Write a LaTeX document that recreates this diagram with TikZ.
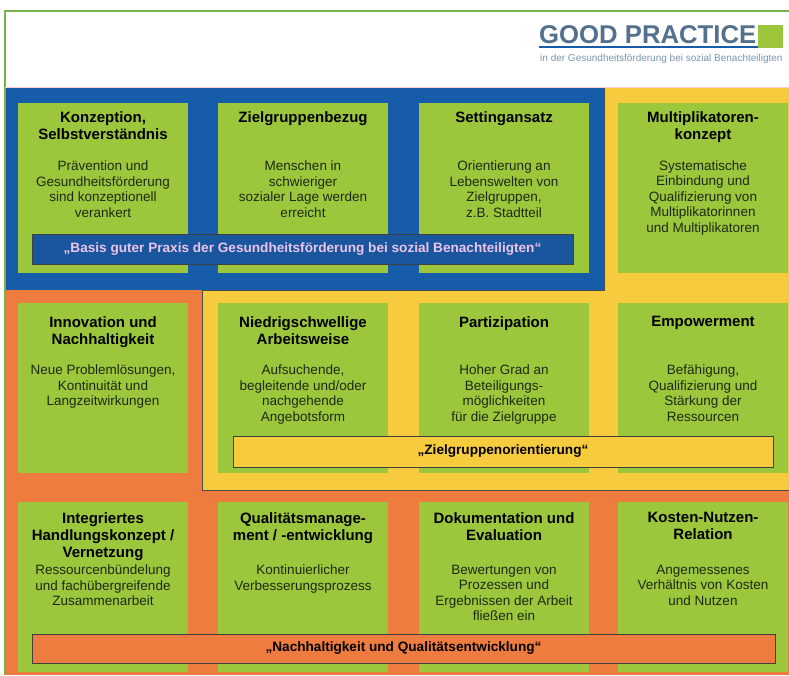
\documentclass[tikz,border=0pt]{standalone}
\usepackage{fontspec}
\setmainfont{Liberation Sans}
\usetikzlibrary{positioning}

\definecolor{blaugrund}{RGB}{22,92,168}
\definecolor{gelbgrund}{RGB}{246,203,62}
\definecolor{orangegrund}{RGB}{238,124,62}
\definecolor{gruen}{RGB}{156,199,60}
\definecolor{bannerblau}{RGB}{25,86,158}
\definecolor{bannertext}{RGB}{236,196,232}
\definecolor{kopfblau}{RGB}{84,112,140}
\definecolor{kopfhell}{RGB}{120,150,180}
\definecolor{rahmengruen}{RGB}{118,178,78}
\definecolor{schrift}{RGB}{28,42,18}

\begin{document}
\begin{tikzpicture}[x=1pt,y=-1pt,
  feld/.style={fill=gruen,minimum width=170pt,minimum height=170pt,inner sep=0pt},
  titel/.style={align=center,inner sep=0pt,anchor=north,text=black,
    font=\fontsize{15}{17}\selectfont\bfseries},
  inhalt/.style={align=center,inner sep=0pt,anchor=north,text=schrift,
    font=\fontsize{13.5}{15.5}\selectfont},
  band/.style={draw=black!75,line width=1pt,inner sep=0pt,
    font=\fontsize{13.6}{15}\selectfont\bfseries}]
  \useasboundingbox (0,0) rectangle (789,675);
  \fill[white] (0,0) rectangle (789,675);

  % Hintergrundflaechen
  \fill[blaugrund] (5,87) rectangle (604,290);
  \fill[gelbgrund] (604,87) rectangle (789,290);
  \fill[gelbgrund] (202,290) rectangle (789,490);
  \fill[orangegrund] (5,290) rectangle (202,490);
  \fill[orangegrund] (5,490) rectangle (789,675);
  \draw[black!70,line width=1pt] (604,87) -- (604,290) -- (202,290) -- (202,490) -- (789,490);
  \draw[rahmengruen,line width=1.5pt] (5,675) -- (5,11) -- (789,11);
  \draw[red!20,line width=0.6pt] (5,87) -- (789,87);

  % Kopf
  \node[anchor=base west,inner sep=0pt,text=kopfblau,font=\fontsize{25.7}{26}\selectfont\bfseries] (logo) at (539,43) {GOOD PRACTICE};
  \draw[blaugrund,line width=2pt] (logo.base west) ++(0,3.5) -- ++(219,0);
  \fill[gruen] (758,25) rectangle (783,48);
  \node[anchor=base west,inner sep=0pt,text=kopfhell,font=\fontsize{10}{11}\selectfont] (unter) at (540,61) {in der Gesundheitsförderung bei sozial Benachteiligten};

  % Felder
  \foreach \name/\x/\y in {konz/103/188, ziel/303/188, sett/504/188, multi/703/188,
    innov/103/388, niedrig/303/388, parti/504/388, empow/703/388,
    integ/103/587, quali/303/587, doku/504/587, kosten/703/587}
    \node[feld] (\name) at (\x,\y) {};

  \node[titel] at ([yshift=-8.3pt]konz.north) {Konzeption,\\Selbstverständnis};
  \node[inhalt] at ([yshift=-57.8pt]konz.north) {Prävention und\\Gesundheitsförderung\\sind konzeptionell\\verankert};
  \node[titel] at ([yshift=-8.3pt]ziel.north) {Zielgruppenbezug};
  \node[inhalt] at ([yshift=-57.8pt]ziel.north) {Menschen in\\schwieriger\\sozialer Lage werden\\erreicht};
  \node[titel] at ([yshift=-8.3pt]sett.north) {Settingansatz};
  \node[inhalt] at ([yshift=-57.8pt]sett.north) {Orientierung an\\Lebenswelten von\\Zielgruppen,\\z.B. Stadtteil};
  \node[titel] at ([yshift=-8.3pt]multi.north) {Multiplikatoren-\\konzept};
  \node[inhalt] at ([yshift=-57.3pt]multi.north) {Systematische\\Einbindung und\\Qualifizierung von\\Multiplikatorinnen\\und Multiplikatoren};

  \node[titel] at ([yshift=-13.3pt]innov.north) {Innovation und\\Nachhaltigkeit};
  \node[inhalt] at ([yshift=-61.8pt]innov.north) {Neue Problemlösungen,\\Kontinuität und\\Langzeitwirkungen};
  \node[titel] at ([yshift=-13.3pt]niedrig.north) {Niedrigschwellige\\Arbeitsweise};
  \node[inhalt] at ([yshift=-61.8pt]niedrig.north) {Aufsuchende,\\begleitende und/oder\\nachgehende\\Angebotsform};
  \node[titel] at ([yshift=-13.3pt]parti.north) {Partizipation};
  \node[inhalt] at ([yshift=-61.8pt]parti.north) {Hoher Grad an\\Beteiligungs-\\möglichkeiten\\für die Zielgruppe};
  \node[titel] at ([yshift=-13.3pt]empow.north) {Empowerment};
  \node[inhalt] at ([yshift=-61.8pt]empow.north) {Befähigung,\\Qualifizierung und\\Stärkung der\\Ressourcen};

  \node[titel] at ([yshift=-10.3pt]integ.north) {Integriertes\\Handlungskonzept /\\Vernetzung};
  \node[inhalt] at ([yshift=-62.8pt]integ.north) {Ressourcenbündelung\\und fachübergreifende\\Zusammenarbeit};
  \node[titel] at ([yshift=-10.3pt]quali.north) {Qualitätsmanage-\\ment / -entwicklung};
  \node[inhalt] at ([yshift=-62.8pt]quali.north) {Kontinuierlicher\\Verbesserungsprozess};
  \node[titel] at ([yshift=-10.3pt]doku.north) {Dokumentation und\\Evaluation};
  \node[inhalt] at ([yshift=-62.8pt]doku.north) {Bewertungen von\\Prozessen und\\Ergebnissen der Arbeit\\fließen ein};
  \node[titel] at ([yshift=-10.3pt]kosten.north) {Kosten-Nutzen-\\Relation};
  \node[inhalt] at ([yshift=-62.8pt]kosten.north) {Angemessenes\\Verhältnis von Kosten\\und Nutzen};

  % Baender
  \node[band,fill=bannerblau,text=bannertext,minimum width=541pt,minimum height=30pt] (basis) at (302.5,249) {„Basis guter Praxis der Gesundheitsförderung bei sozial Benachteiligten“};
  \node[band,fill=gelbgrund,text=black,minimum width=540pt,minimum height=31pt] (zielband) at (503,451.5) {„Zielgruppenorientierung“};
  \node[band,fill=orangegrund,text=black,minimum width=743pt,minimum height=29pt] (nachband) at (403.5,648.5) {„Nachhaltigkeit und Qualitätsentwicklung“};
\end{tikzpicture}
\end{document}
